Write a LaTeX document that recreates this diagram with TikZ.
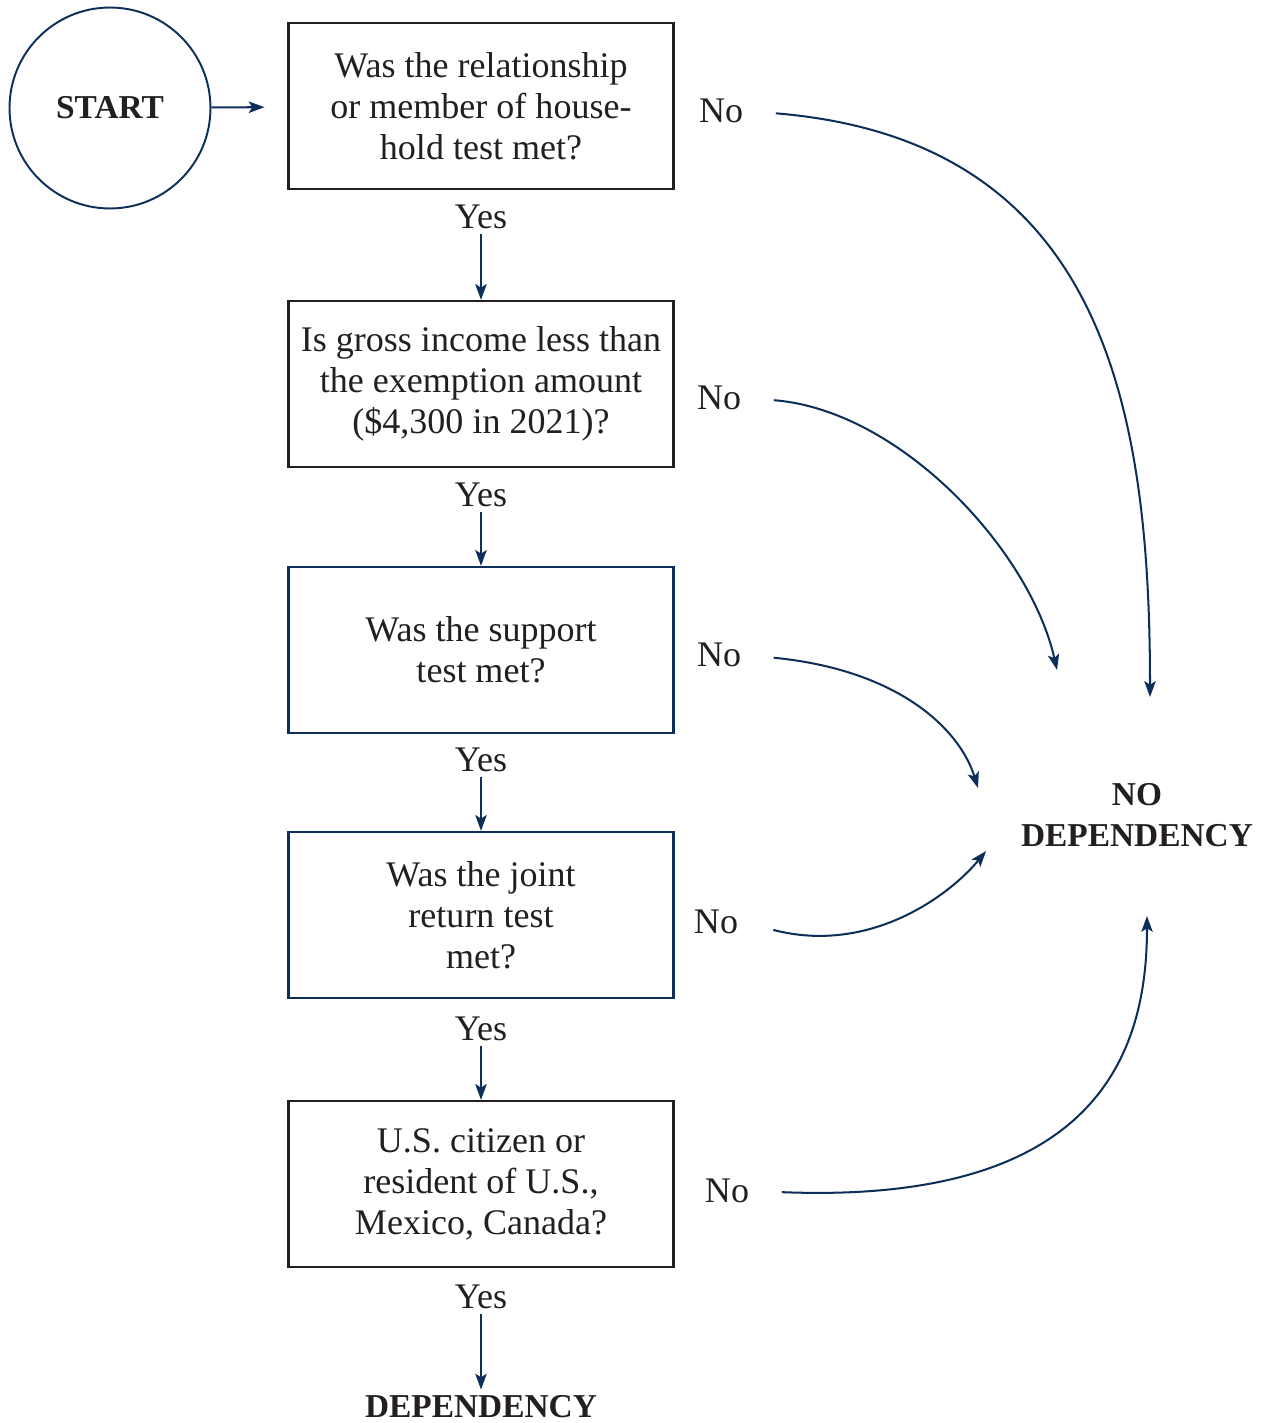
\documentclass[tikz,border=0pt]{standalone}
\usepackage{fontspec}
\setmainfont{Liberation Serif}
\usepackage{tikz}
\usetikzlibrary{positioning,arrows.meta}
\definecolor{DEPnavy}{HTML}{0C2F5A}
\definecolor{DEPink}{HTML}{231F20}

\begin{document}
\begin{tikzpicture}[x=0.02cm, y=-0.02cm,
            txt/.style={text=DEPink, font=\fontsize{20.5}{23.3}\selectfont, align=center},
            qbox/.style={txt, draw=DEPink, line width=1.3pt, minimum width=7.7cm, minimum height=3.32cm, inner sep=0pt},
            qboxb/.style={qbox, draw=DEPnavy},
            lab/.style={txt, inner sep=2.5pt},
            bold/.style={txt, font=\fontsize{19}{23.3}\selectfont\bfseries},
            arr/.style={DEPnavy, line width=1.15pt, -{Stealth[length=9pt, width=6.5pt, inset=2pt]}},
            noarr/.style={arr, shorten <=16pt}]
        \useasboundingbox (0,0) rectangle (1264,1423);
        % start and the column of tests
        \node[bold, circle, draw=DEPnavy, line width=1.1pt, minimum size=4.02cm] (start) at (110,108) {START};
        \node[qbox]  (q1) at (481,106)  {Was the relationship\\or member of house-\\hold test met?};
        \node[qbox]  (q2) at (481,384)  {Is gross income less than\\the exemption amount\\(\$4,300 in 2021)?};
        \node[qboxb] (q3) at (481,650)  {Was the support\\test met?};
        \node[qboxb] (q4) at (481,915)  {Was the joint\\return test\\met?};
        \node[qbox]  (q5) at (481,1184) {U.S. citizen or\\resident of U.S.,\\Mexico, Canada?};
        \node[lab] (y1) at (481,217)  {Yes};
        \node[lab] (y2) at (481,495)  {Yes};
        \node[lab] (y3) at (481,760)  {Yes};
        \node[lab] (y4) at (481,1029) {Yes};
        \node[lab] (y5) at (481,1297) {Yes};
        \node[bold] (dep) at (481,1407) {DEPENDENCY};
        % the no branches
        \node[lab] (n1) at (721,111)  {No};
        \node[lab] (n2) at (719,398)  {No};
        \node[lab] (n3) at (719,655)  {No};
        \node[lab] (n4) at (716,922)  {No};
        \node[lab] (n5) at (727,1191) {No};
        \node[bold] (nodep) at (1137,815) {NO\\DEPENDENCY};
        \coordinate (e1) at (1150,697);
        \coordinate (e2) at (1057,670);
        \coordinate (e3) at (978,788);
        \coordinate (e4) at (986,851);
        \coordinate (e5) at (1147,916);
        \draw[arr, shorten >=13pt] (start) -- (q1);
        \draw[arr] (y1) -- (q2);
        \draw[arr] (y2) -- (q3);
        \draw[arr] (y3) -- (q4);
        \draw[arr] (y4) -- (q5);
        \draw[arr] (y5) -- (dep);
        \draw[noarr] (n1.east) .. controls (1100,140) and (1150,400) .. (e1);
        \draw[noarr] (n2.east) .. controls (900,410) and (1030,550) .. (e2);
        \draw[noarr] (n3.east) .. controls (900,670) and (960,730) .. (e3);
        \draw[noarr, shorten <=18pt] (n4.east) .. controls (870,955) and (950,895) .. (e4);
        \draw[noarr] (n5.east) .. controls (1100,1205) and (1147,1050) .. (e5);
      \end{tikzpicture}
\end{document}
